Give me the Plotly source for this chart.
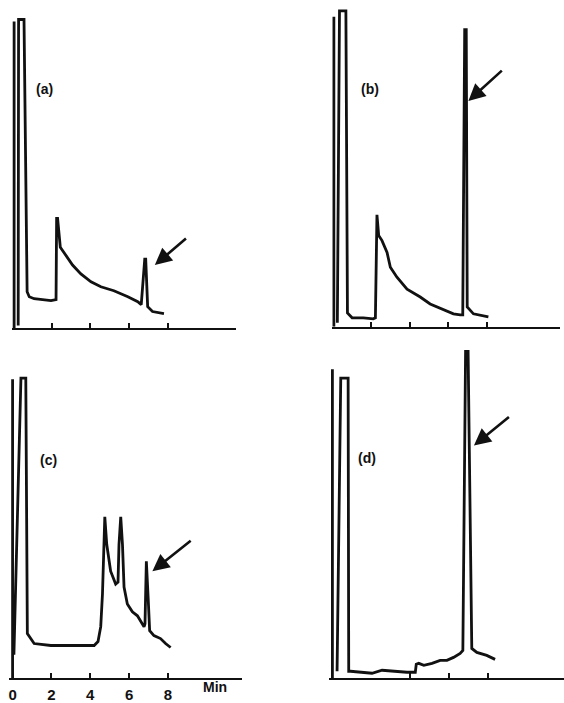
import plotly.graph_objects as go

# ---------------- data (retention time in min, detector response in arbitrary units) -------------
# None separates the injection mark from the rest of the trace
a_time = [0.07, 0.07, None, 0.28, 0.30, 0.58, 0.74, 0.85, 1.10, 1.97, 2.23, 2.26, 2.31, 2.45, 2.74,
          3.08, 3.51, 4.03, 4.54, 5.21, 5.93, 6.44, 6.62, 6.80, 6.85, 6.95, 7.20, 7.79]
a_resp = [0, 310, None, 3, 312, 312, 37, 32, 30, 28, 29, 111, 111, 82, 74,
          64, 55, 47, 42, 38, 32, 27, 24, 70, 70, 22, 17, 15]

b_time = [0.10, 0.10, None, 0.28, 0.39, 0.72, 0.80, 1.04, 1.62, 2.13, 2.24, 2.32, 2.41, 2.58, 2.84,
          3.01, 3.35, 3.87, 4.55, 5.06, 5.75, 6.26, 6.61, 6.74, 6.84, 6.92, 6.97, 7.29, 8.06]
b_resp = [0, 313, None, 4, 319, 319, 14, 9, 9, 8, 9, 113, 92, 87, 75,
          60, 50, 38, 30, 23, 17, 13, 12, 12, 300, 300, 20, 13, 10]

c_time = [0.0, 0.0, None, 0.0, 0.07, 0.43, 0.68, 0.76, 1.11, 1.97, 4.20, 4.40, 4.54, 4.63, 4.75, 4.85,
          5.05, 5.31, 5.43, 5.48, 5.57, 5.66, 5.74, 5.91, 6.17, 6.43, 6.60, 6.77, 6.82, 6.89,
          6.99, 7.06, 7.28, 7.62, 7.88, 8.14]
c_resp = [0, 302, None, 25, 25, 303, 303, 45, 35, 33, 33, 37, 52, 85, 163, 135,
          108, 95, 97, 135, 163, 135, 92, 75, 67, 63, 57, 52, 55, 118,
          78, 48, 43, 40, 35, 31]

d_time = [0.0, 0.0, None, 0.24, 0.43, 0.81, 0.84, 0.93, 1.61, 2.04, 2.56, 3.07, 3.84, 4.27, 4.32,
          4.45, 4.71, 5.13, 5.55, 5.90, 6.24, 6.58, 6.72, 6.86, 6.99, 7.18, 7.44, 7.95, 8.38]
d_resp = [0, 312, None, 7, 303, 303, 7, 7, 6, 5, 8, 7, 6, 6, 14,
          15, 13, 15, 18, 18, 21, 25, 28, 330, 330, 30, 26, 23, 19]

panel_labels = ["(a)", "(b)", "(c)", "(d)"]
tick_values_c = [0, 2, 4, 6, 8]
tick_labels_c = ["0", "2", "4", "6", "8"]
time_unit = "Min"

# ---------------- layout helpers (pixel geometry of the 564x703 page) ----------------
W, H = 564, 703
def xdom(a, b):
    return [max(0, a / W), min(1, b / W)]
def ydom(top, bottom):
    return [max(0, 1 - bottom / H), min(1, 1 - top / H)]

INK = "#111111"
LBL_FONT = dict(family="Liberation Sans, Arial, sans-serif", size=14, color=INK, weight="bold")

fig = go.Figure()
traces = [(a_time, a_resp, "x", "y"), (b_time, b_resp, "x2", "y2"),
          (c_time, c_resp, "x3", "y3"), (d_time, d_resp, "x4", "y4")]
for t, r, xa, ya in traces:
    fig.add_trace(go.Scatter(x=t, y=r, xaxis=xa, yaxis=ya, mode="lines",
                             line=dict(color=INK, width=2.8), connectgaps=False,
                             hoverinfo="skip", showlegend=False))

xcommon = dict(showline=True, linecolor=INK, linewidth=2, showgrid=False, zeroline=False,
               ticks="inside", ticklen=5, tickwidth=2, tickcolor=INK, mirror=False)
ycommon = dict(visible=False, showgrid=False, zeroline=False)

fig.update_layout(
    width=W, height=H, margin=dict(l=0, r=0, t=0, b=0),
    paper_bgcolor="white", plot_bgcolor="white",
    xaxis=dict(domain=xdom(11, 235), range=[-0.04, 11.48], tickvals=[2, 4, 6, 8],
               showticklabels=False, anchor="y", **xcommon),
    yaxis=dict(domain=ydom(5, 331.7), range=[0, 326.7], anchor="x", **ycommon),
    xaxis2=dict(domain=xdom(331.7, 560), range=[0.01, 11.75], tickvals=[2, 4, 6, 8],
                showticklabels=False, anchor="y2", **xcommon),
    yaxis2=dict(domain=ydom(5, 330), range=[0, 325], anchor="x2", **ycommon),
    xaxis3=dict(domain=xdom(8.3, 241.7), range=[-0.17, 11.83], tickvals=tick_values_c,
                ticktext=tick_labels_c, showticklabels=True, ticklabeloverflow="allow",
                ticklabelstandoff=2,
                tickfont=dict(family="Liberation Sans, Arial, sans-serif", size=15,
                              color=INK, weight="bold"),
                anchor="y3", **xcommon),
    yaxis3=dict(domain=ydom(345, 685), range=[0, 340], anchor="x3", **ycommon),
    xaxis4=dict(domain=xdom(328.3, 564), range=[-0.19, 11.93], tickvals=[4, 6, 8],
                showticklabels=False, anchor="y4", **xcommon),
    yaxis4=dict(domain=ydom(345, 685), range=[0, 340], anchor="x4", **ycommon),
)

# panel labels
label_pos = [(1.66, 242, "x", "y"), (1.98, 240, "x2", "y2"), (1.84, 220, "x3", "y3"), (1.80, 222, "x4", "y4")]
for (tx, ty, xr, yr), txt in zip(label_pos, panel_labels):
    fig.add_annotation(x=tx, y=ty, xref=xr, yref=yr, text=txt, showarrow=False, font=LBL_FONT)

# arrows pointing to the analyte peak
arrows = [((7.32, 64), (9.0, 92), "x", "y"), ((7.03, 228), (8.83, 260), "x2", "y2"),
          ((7.20, 108), (9.25, 140), "x3", "y3"), ((7.29, 235), (9.17, 265), "x4", "y4")]
for (tipx, tipy), (tailx, taily), xr, yr in arrows:
    fig.add_annotation(x=tipx, y=tipy, xref=xr, yref=yr, ax=tailx, ay=taily,
                       axref=xr, ayref=yr, text="", showarrow=True,
                       arrowhead=2, arrowsize=1.3, arrowwidth=2.6, arrowcolor=INK)

# time unit label
fig.add_annotation(x=10.4, y=1 - 694 / H, xref="x3", yref="paper", text=time_unit,
                   showarrow=False, yanchor="middle",
                   font=dict(family="Liberation Sans, Arial, sans-serif", size=14,
                             color=INK, weight="bold"))

# remove the browser's default page margin so the figure sits at the window's top-left corner
fig.write_html("out.html", config={"displayModeBar": False},
               post_script="document.body.style.margin='0';document.body.style.overflow='hidden';")
